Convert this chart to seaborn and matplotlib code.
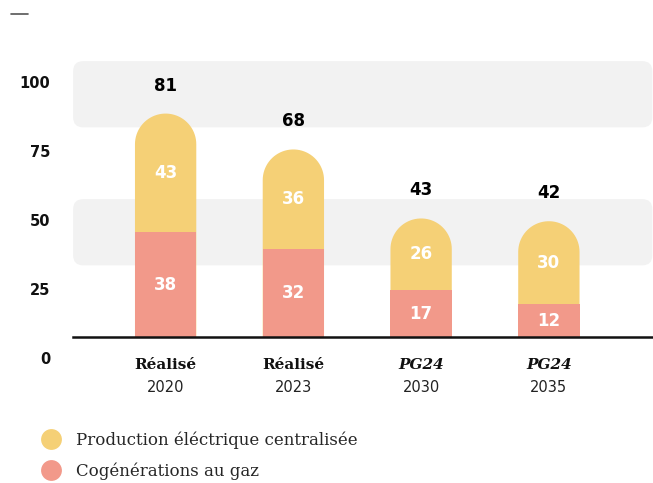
import numpy as np
import pandas as pd
import matplotlib
matplotlib.use("Agg")
import matplotlib.pyplot as plt
from matplotlib.patches import FancyBboxPatch, PathPatch
from matplotlib.path import Path
from matplotlib.lines import Line2D
import seaborn as sns

# données
statuts = ["Réalisé", "Réalisé", "PG24", "PG24"]
annees = ["2020", "2023", "2030", "2035"]
cogeneration = [38, 32, 17, 12]
production = [43, 36, 26, 30]
totaux = [81, 68, 43, 42]
yticks = [0, 25, 50, 75, 100]
bandes = [(26, 50), (76, 100)]
legende = ["Production éléctrique centralisée", "Cogénérations au gaz"]

jaune = "#F5D076"
saumon = "#F2998A"
gris = "#F2F2F2"

df = pd.DataFrame({"annee": annees, "statut": statuts, "gaz": cogeneration,
                   "elec": production, "total": totaux})

sns.set_style("white")
plt.rcParams["font.family"] = ["DejaVu Serif"]

fig = plt.figure(figsize=(6.53, 4.83), dpi=100)
ax = fig.add_axes([0.112, 0.302, 0.887, 0.600])

# barres totales (jaune) puis cogénération (saumon) par-dessus
sns.barplot(data=df, x="annee", y="total", color=jaune, saturation=1,
            width=0.48, errorbar=None, linewidth=0, ax=ax)
total_patches = list(ax.patches)
sns.barplot(data=df, x="annee", y="gaz", color=saumon, saturation=1,
            width=0.48, errorbar=None, linewidth=0, ax=ax)
for p in ax.patches[len(total_patches):]:
    p.set_zorder(2)

xmin, xmax = -0.724, 3.81
ax.set_xlim(xmin, xmax)
ax.set_ylim(0, 105)

o = ax.transData.transform((0, 0))
px_x = ax.transData.transform((1, 0))[0] - o[0]
px_y = ax.transData.transform((0, 1))[1] - o[1]
aspect = px_x / px_y

# sommets arrondis
for p in total_patches:
    x0, w, h = p.get_x(), p.get_width(), p.get_height()
    rx = w / 2
    ry = rx * aspect
    t = np.linspace(np.pi, 0, 40)
    xs = np.concatenate([[x0], x0 + rx + rx * np.cos(t), [x0 + w, x0]])
    ys = np.concatenate([[0], h - ry + ry * np.sin(t), [0, 0]])
    p.set_visible(False)
    ax.add_patch(PathPatch(Path(np.column_stack([xs, ys])), fc=jaune,
                           ec="none", zorder=1))

# bandes grises
for lo, hi in bandes:
    r = 10 / px_x
    ax.add_patch(FancyBboxPatch((xmin, lo), xmax - xmin, hi - lo,
                                boxstyle=f"round,pad=0,rounding_size={r}",
                                mutation_aspect=aspect, fc=gris, ec="none",
                                zorder=0, clip_on=False))

for i, row in df.iterrows():
    ax.text(i, row["gaz"] / 2, str(row["gaz"]), ha="center", va="center",
            color="white", fontsize=12, fontweight="bold",
            family="DejaVu Sans", zorder=3)
    ax.text(i, row["gaz"] + row["elec"] / 2, str(row["elec"]), ha="center",
            va="center", color="white", fontsize=12, fontweight="bold",
            family="DejaVu Sans", zorder=3)
    ax.annotate(str(row["total"]), xy=(i, row["total"]), xytext=(0, 28),
                textcoords="offset pixels", ha="center", va="center",
                fontsize=12, fontweight="bold", family="DejaVu Sans",
                color="black")
    ax.annotate(row["statut"], xy=(i, 0), xytext=(0, -28),
                textcoords="offset pixels", ha="center", va="center",
                fontsize=11, fontweight="bold",
                style="italic" if row["statut"] == "PG24" else "normal",
                color="#111111")
    ax.annotate(row["annee"], xy=(i, 0), xytext=(0, -50),
                textcoords="offset pixels", ha="center", va="center",
                fontsize=10.5, family="DejaVu Sans", color="#222222")

for v in yticks:
    ax.annotate(str(v), xy=(0, v), xycoords=("axes fraction", "data"),
                xytext=(-23, -22), textcoords="offset pixels", ha="right",
                va="center", fontsize=10.5, fontweight="bold",
                family="DejaVu Sans", color="#111111", annotation_clip=False)

ax.set_xlabel("")
ax.set_ylabel("")
ax.tick_params(length=0, labelbottom=False, labelleft=False)
for s in ["top", "right", "left"]:
    ax.spines[s].set_visible(False)
ax.spines["bottom"].set_color("#111111")
ax.spines["bottom"].set_linewidth(1.8)

handles = [Line2D([], [], marker="o", ls="", ms=15, mfc=c, mec="none")
           for c in [jaune, saumon]]
fig.legend(handles, legende, loc="upper left", bbox_to_anchor=(0.055, 0.12),
           frameon=False, fontsize=12, handlelength=1.0, handletextpad=1.0,
           labelspacing=0.8, borderaxespad=0)

fig.add_artist(Line2D([11 / 653, 28 / 653], [1 - 14 / 483, 1 - 14 / 483],
                      transform=fig.transFigure, color="#555555", lw=1.2))

fig.savefig("out.png", dpi=100)
